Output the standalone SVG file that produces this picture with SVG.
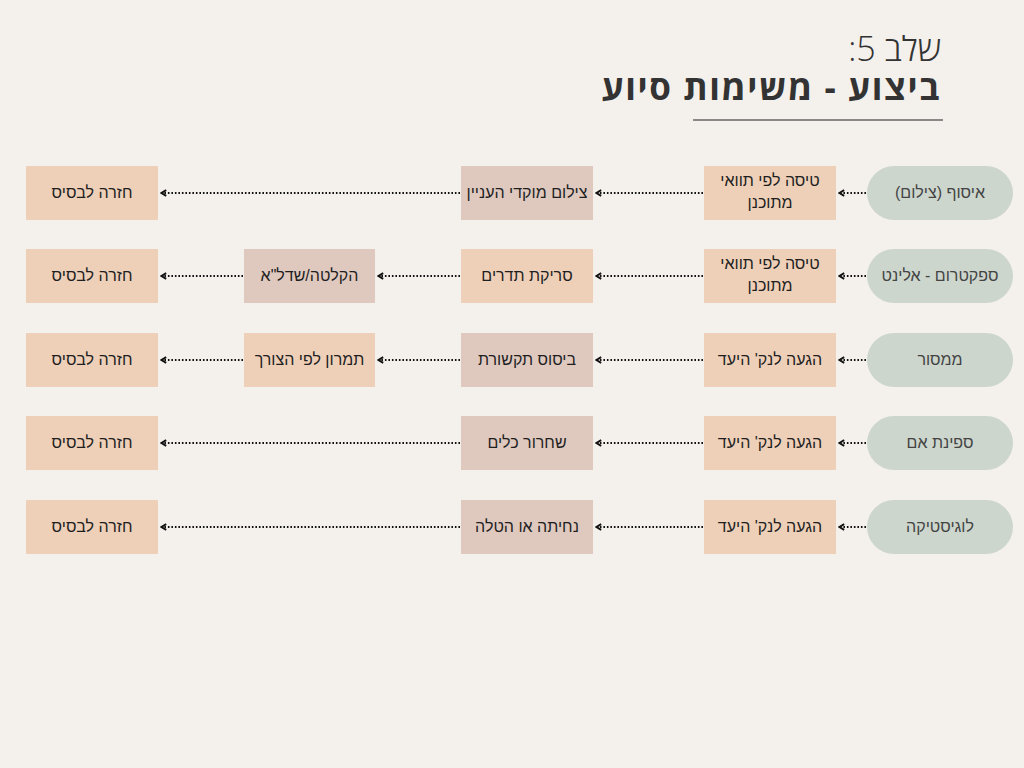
<svg xmlns="http://www.w3.org/2000/svg" width="1024" height="768" viewBox="0 0 1024 768">
<defs>
<style>
.t{font-family:"Liberation Sans",Arial,sans-serif;font-size:16px;fill:#1f1f1f;text-anchor:middle;direction:rtl}
.tp{fill:#444}
.pill{fill:#ccd6cd}
.peach{fill:#eed0b9}
.rose{fill:#dfc9bf}
.c{fill:none;stroke:#111;stroke-width:2;stroke-dasharray:1.6 1.9;marker-end:url(#ah)}
.h{font-family:"Open Sans","Liberation Sans",sans-serif;fill:#333;text-anchor:start;direction:rtl}
</style>
<marker id="ah" viewBox="0 0 10 10" refX="9" refY="5" markerWidth="8" markerHeight="8" markerUnits="userSpaceOnUse" orient="auto">
<path d="M2.5,1.5 L8.5,5 L2.5,8.5" fill="none" stroke="#111" stroke-width="2.4"/>
</marker>
</defs>
<rect width="1024" height="768" fill="#f4f0eb"/>
<g id="title">
<text class="h" x="941" y="61" style="font-size:34px;font-weight:300">שלב 5:</text>
<text class="h" x="941" y="100" style="font-size:35px;font-weight:700;letter-spacing:1.6px">ביצוע - משימות סיוע</text>
<line x1="693" y1="120" x2="943" y2="120" stroke="#666" stroke-width="1.5"/>
</g>
<g id="connectors">
<path class="c" d="M866,193 H839"/>
<path class="c" d="M703,193 H596"/>
<path class="c" d="M460,193 H161"/>
<path class="c" d="M866,276 H839"/>
<path class="c" d="M703,276 H596"/>
<path class="c" d="M460,276 H378"/>
<path class="c" d="M243,276 H161"/>
<path class="c" d="M866,360 H839"/>
<path class="c" d="M703,360 H596"/>
<path class="c" d="M460,360 H378"/>
<path class="c" d="M243,360 H161"/>
<path class="c" d="M866,443 H839"/>
<path class="c" d="M703,443 H596"/>
<path class="c" d="M460,443 H161"/>
<path class="c" d="M866,527 H839"/>
<path class="c" d="M703,527 H596"/>
<path class="c" d="M460,527 H161"/>
</g>
<g id="r1-start"><rect class="pill" x="867" y="166" width="146" height="54" rx="27"/><text class="t tp" x="940" y="198">איסוף (צילום)</text></g>
<g id="r1-c1"><rect class="peach" x="704" y="166" width="132" height="54"/><text class="t" x="770" y="186">טיסה לפי תוואי</text><text class="t" x="770" y="208">מתוכנן</text></g>
<g id="r1-c2"><rect class="rose" x="461" y="166" width="132" height="54"/><text class="t" x="527" y="198">צילום מוקדי העניין</text></g>
<g id="r1-end"><rect class="peach" x="26" y="166" width="132" height="54"/><text class="t" x="92" y="198">חזרה לבסיס</text></g>

<g id="r2-start"><rect class="pill" x="867" y="249" width="146" height="54" rx="27"/><text class="t tp" x="940" y="281">ספקטרום - אלינט</text></g>
<g id="r2-c1"><rect class="peach" x="704" y="249" width="132" height="54"/><text class="t" x="770" y="269">טיסה לפי תוואי</text><text class="t" x="770" y="291">מתוכנן</text></g>
<g id="r2-c2"><rect class="peach" x="461" y="249" width="132" height="54"/><text class="t" x="527" y="281">סריקת תדרים</text></g>
<g id="r2-c3"><rect class="rose" x="244" y="249" width="131" height="54"/><text class="t" x="309.5" y="281">הקלטה/שדל"א</text></g>
<g id="r2-end"><rect class="peach" x="26" y="249" width="132" height="54"/><text class="t" x="92" y="281">חזרה לבסיס</text></g>

<g id="r3-start"><rect class="pill" x="867" y="333" width="146" height="54" rx="27"/><text class="t tp" x="940" y="365">ממסור</text></g>
<g id="r3-c1"><rect class="peach" x="704" y="333" width="132" height="54"/><text class="t" x="770" y="365">הגעה לנק' היעד</text></g>
<g id="r3-c2"><rect class="rose" x="461" y="333" width="132" height="54"/><text class="t" x="527" y="365">ביסוס תקשורת</text></g>
<g id="r3-c3"><rect class="peach" x="244" y="333" width="131" height="54"/><text class="t" x="309.5" y="365">תמרון לפי הצורך</text></g>
<g id="r3-end"><rect class="peach" x="26" y="333" width="132" height="54"/><text class="t" x="92" y="365">חזרה לבסיס</text></g>

<g id="r4-start"><rect class="pill" x="867" y="416" width="146" height="54" rx="27"/><text class="t tp" x="940" y="448">ספינת אם</text></g>
<g id="r4-c1"><rect class="peach" x="704" y="416" width="132" height="54"/><text class="t" x="770" y="448">הגעה לנק' היעד</text></g>
<g id="r4-c2"><rect class="rose" x="461" y="416" width="132" height="54"/><text class="t" x="527" y="448">שחרור כלים</text></g>
<g id="r4-end"><rect class="peach" x="26" y="416" width="132" height="54"/><text class="t" x="92" y="448">חזרה לבסיס</text></g>

<g id="r5-start"><rect class="pill" x="867" y="500" width="146" height="54" rx="27"/><text class="t tp" x="940" y="532">לוגיסטיקה</text></g>
<g id="r5-c1"><rect class="peach" x="704" y="500" width="132" height="54"/><text class="t" x="770" y="532">הגעה לנק' היעד</text></g>
<g id="r5-c2"><rect class="rose" x="461" y="500" width="132" height="54"/><text class="t" x="527" y="532">נחיתה או הטלה</text></g>
<g id="r5-end"><rect class="peach" x="26" y="500" width="132" height="54"/><text class="t" x="92" y="532">חזרה לבסיס</text></g>
</svg>
